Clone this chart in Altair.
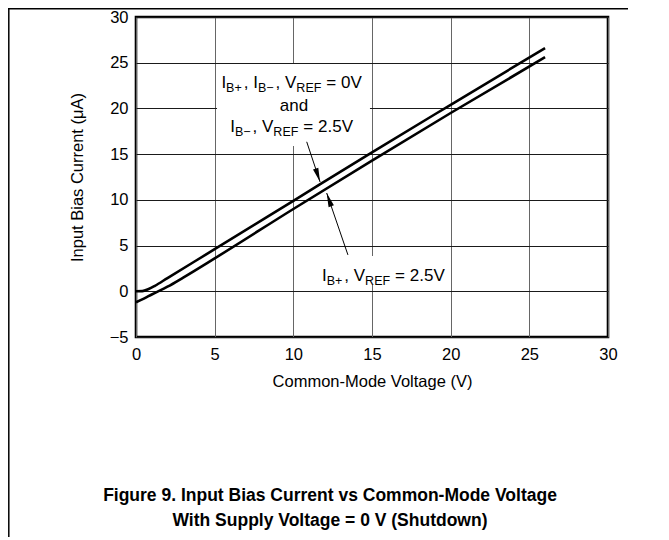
import math
import altair as alt
import pandas as pd

# ---------------- data ----------------
vcm_upper = [0, 0.4, 0.8, 1.2, 2, 5, 10, 15, 20, 26]
ib_upper = [0, 0.02, 0.25, 0.6, 1.45, 4.6, 9.9, 15.2, 20.4, 26.6]
vcm_lower = [0, 0.5, 1, 2, 3, 5, 10, 15, 20, 26]
ib_lower = [-1.2, -0.8, -0.35, 0.5, 1.5, 3.6, 9.0, 14.3, 19.5, 25.6]

x_ticks = [0, 5, 10, 15, 20, 25, 30]
y_ticks = [-5, 0, 5, 10, 15, 20, 25, 30]
x_title = "Common-Mode Voltage (V)"
y_title = "Input Bias Current (\u03bcA)"
caption_lines = ["Figure 9. Input Bias Current vs Common-Mode Voltage",
                 "With Supply Voltage = 0 V (Shutdown)"]

NB = "\u00a0"
# annotation text fragments: (text, m=main / s=subscript)
ann_lines = [
    [("I", "m"), ("B+", "s"), (", I", "m"), ("B\u2212", "s"), (", V", "m"), ("REF", "s"), (NB + "= 0V", "m")],
    [("and", "m")],
    [("I", "m"), ("B\u2212", "s"), (", V", "m"), ("REF", "s"), (NB + "= 2.5V", "m")],
    [("I", "m"), ("B+", "s"), (", V", "m"), ("REF", "s"), (NB + "= 2.5V", "m")],
]
ann_anchor_x = [10.04, 10.04, 10.04, 11.82]
ann_align = ["center", "center", "center", "left"]
ann_baseline_y = [22.23, 19.72, 17.42, 1.13]

box_x = [5.15, 10.3]
box_x2 = [14.87, 19.83]
box_y = [24.86, 3.86]
box_y2 = [15.9, 0.69]

arrow_start_x = [10.85, 13.47]
arrow_start_y = [16.35, 3.98]
arrow_tip_x = [11.7, 12.12]
arrow_tip_y = [11.96, 10.75]

# ---------------- layout constants ----------------
W, H = 472, 320
PXX = W / 30.0
PXY = H / 35.0
MAIN, SUB = 17.0, 12.5
SUB_DROP = 4.0
SUB_GAP = 2.0
REF_EXTRA = 3.0
FONT = "Liberation Sans"
AXF = 16.5

W_ARIAL = {'I': 278, 'B': 667, '+': 584, '\u2212': 584, ',': 278, ' ': 278, NB: 278, 'V': 667,
           'R': 722, 'E': 667, 'F': 611, '=': 584, '0': 556, '2': 556, '.': 278,
           '5': 556, 'a': 556, 'n': 556, 'd': 556}


def text_w(s, size):
    return sum(W_ARIAL.get(c, 556) for c in s) * size / 1000.0


main_rows, sub_rows = [], []
for parts, ax, ay, al in zip(ann_lines, ann_anchor_x, ann_baseline_y, ann_align):
    widths = []
    for t, k in parts:
        if k == "m":
            widths.append(text_w(t, MAIN))
        else:
            widths.append(text_w(t, SUB) + SUB_GAP + (REF_EXTRA if t == "REF" else 0))
    total = sum(widths)
    pos = 0.0 if al == "left" else -total / 2.0
    for (t, k), w in zip(parts, widths):
        xd = ax + pos / PXX
        if k == "m":
            main_rows.append({"t": t, "x": xd, "y": ay})
        else:
            sub_rows.append({"t": t, "x": xd, "y": ay - SUB_DROP / PXY})
        pos += w

df_main = pd.DataFrame(main_rows)
df_sub = pd.DataFrame(sub_rows)

df_curves = pd.concat([
    pd.DataFrame({"x": vcm_upper, "y": ib_upper, "s": "upper"}),
    pd.DataFrame({"x": vcm_lower, "y": ib_lower, "s": "lower"}),
], ignore_index=True)

df_box = pd.DataFrame({"x": box_x, "x2": box_x2, "y": box_y, "y2": box_y2})

arrow_rows, head_rows = [], []
for i, (sx, sy, tx, ty) in enumerate(zip(arrow_start_x, arrow_start_y, arrow_tip_x, arrow_tip_y)):
    arrow_rows.append({"a": i, "o": 0, "x": sx, "y": sy})
    arrow_rows.append({"a": i, "o": 1, "x": tx, "y": ty})
    dx = (tx - sx) * PXX
    dy = -(ty - sy) * PXY
    ang = math.degrees(math.atan2(dx, -dy)) % 360
    head_rows.append({"x": tx, "y": ty, "ang": ang})
df_arrow = pd.DataFrame(arrow_rows)
df_head = pd.DataFrame(head_rows)

# ---------------- encodings ----------------
xscale = alt.Scale(domain=[0, 30], nice=False, zero=False)
yscale = alt.Scale(domain=[-5, 30], nice=False, zero=False)
xaxis = alt.Axis(values=x_ticks, title=x_title, grid=True, gridColor="#666666", gridWidth=1,
                 ticks=False, tickSize=0, domain=False, labelPadding=9, titlePadding=11,
                 labelFlush=False, labelFont=FONT, labelFontSize=AXF, labelColor="black",
                 titleFont=FONT, titleFontSize=AXF, titleFontWeight="normal", titleColor="black")
yaxis = alt.Axis(values=y_ticks, title=y_title, grid=True, gridColor="#1a1a1a", gridWidth=1,
                 ticks=False, tickSize=0, domain=False, labelPadding=8, titlePadding=24,
                 labelFlush=False, labelFont=FONT, labelFontSize=AXF, labelColor="black",
                 titleFont=FONT, titleFontSize=AXF, titleFontWeight="normal", titleColor="black")


def X(f="x"):
    return alt.X(f"{f}:Q", scale=xscale, axis=xaxis)


def Y(f="y"):
    return alt.Y(f"{f}:Q", scale=yscale, axis=yaxis)


boxes = alt.Chart(df_box).mark_rect(color="white").encode(
    x=X(), x2="x2:Q", y=Y(), y2="y2:Q")

curves = alt.Chart(df_curves).mark_line(color="black", strokeWidth=2.6, interpolate="monotone").encode(
    x=X(), y=Y(), detail="s:N")

arrows = alt.Chart(df_arrow).mark_line(color="black", strokeWidth=1).encode(
    x=X(), y=Y(), detail="a:N", order="o:Q")

heads = alt.Chart(df_head).mark_point(
    shape="M0,0L0.4,2L-0.4,2Z", filled=True, color="black", opacity=1, size=196, strokeWidth=0
).encode(x=X(), y=Y(), angle=alt.Angle("ang:Q", scale=None))

txt_main = alt.Chart(df_main).mark_text(
    align="left", baseline="alphabetic", font=FONT, fontSize=MAIN, color="black"
).encode(x=X(), y=Y(), text="t:N")

txt_sub = alt.Chart(df_sub).mark_text(
    align="left", baseline="alphabetic", font=FONT, fontSize=SUB, color="black"
).encode(x=X(), y=Y(), text="t:N")

one = pd.DataFrame({"k": [0]})
cap1 = alt.Chart(one).mark_text(
    align="center", baseline="alphabetic", font=FONT, fontSize=17.5,
    fontWeight="bold", color="black", text=caption_lines[0]
).encode(x=alt.value(194), y=alt.value(484))
cap2 = alt.Chart(one).mark_text(
    align="center", baseline="alphabetic", font=FONT, fontSize=17.5,
    fontWeight="bold", color="black", text=caption_lines[1]
).encode(x=alt.value(194), y=alt.value(509))

border_left = alt.Chart(one).mark_rule(color="black", strokeWidth=1.5).encode(
    x=alt.value(-127.2), y=alt.value(-9), y2=alt.value(532))
border_top = alt.Chart(one).mark_rule(color="black", strokeWidth=1.5).encode(
    x=alt.value(-128), x2=alt.value(540), y=alt.value(-8.2))

chart = alt.layer(
    boxes, curves, arrows, heads, txt_main, txt_sub, cap1, cap2, border_left, border_top
).properties(
    width=W, height=H,
    background="white",
    autosize=alt.AutoSizeParams(type="none"),
    padding={"left": 128, "top": 9, "right": 20, "bottom": 200},
).configure_view(
    stroke="black", strokeWidth=2.6
)

chart.save("out.html", embed_options={"renderer": "svg", "actions": False})
